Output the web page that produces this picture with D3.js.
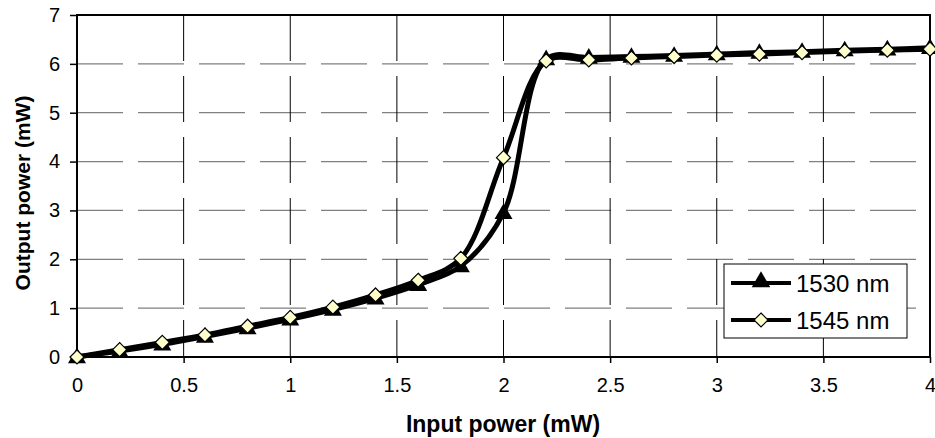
<!DOCTYPE html>
<html>
<head>
<meta charset="utf-8">
<script src="https://cdn.jsdelivr.net/npm/d3@7"></script>
<style>
  body { margin: 0; background: #fff; }
  text { font-family: "Liberation Sans", Arial, sans-serif; }
</style>
</head>
<body>
<svg width="935" height="438"></svg>
<script>
// input power (mW)
var input_power = [0, 0.2, 0.4, 0.6, 0.8, 1, 1.2, 1.4, 1.6, 1.8, 2, 2.2, 2.4, 2.6, 2.8, 3, 3.2, 3.4, 3.6, 3.8, 4];
// output power (mW) for each wavelength
var out_1530 = [0, 0.12, 0.26, 0.42, 0.59, 0.77, 0.97, 1.2, 1.48, 1.86, 2.95, 6.1, 6.13, 6.15, 6.17, 6.2, 6.23, 6.25, 6.28, 6.3, 6.33];
var out_1545 = [0, 0.15, 0.3, 0.45, 0.63, 0.81, 1.02, 1.27, 1.57, 2.02, 4.08, 6.06, 6.08, 6.12, 6.15, 6.18, 6.2, 6.23, 6.26, 6.28, 6.3];
var x_ticks = [0, 0.5, 1, 1.5, 2, 2.5, 3, 3.5, 4];
var y_ticks = [0, 1, 2, 3, 4, 5, 6, 7];
var series_names = ["1530 nm", "1545 nm"];

var svg = d3.select("svg");
var left = 77, right = 930, top_ = 15, bottom = 357;

var x = d3.scaleLinear().domain([0, 4]).range([left, right]);
var y = d3.scaleLinear().domain([0, 7]).range([bottom, top_]);

// grid lines (dashed)
svg.append("g").selectAll("line")
    .data(y_ticks.filter(function(d){ return d > 0 && d < 7; }))
    .enter().append("line")
    .attr("x1", left).attr("x2", right)
    .attr("y1", function(d){ return y(d); })
    .attr("y2", function(d){ return y(d); })
    .attr("stroke", "#808080")
    .attr("stroke-width", 1.3)
    .attr("stroke-dasharray", "46,15");

svg.append("g").selectAll("line")
    .data(x_ticks.filter(function(d){ return d > 0 && d < 4; }))
    .enter().append("line")
    .attr("x1", function(d){ return x(d); })
    .attr("x2", function(d){ return x(d); })
    .attr("y1", top_).attr("y2", bottom)
    .attr("stroke", "#000")
    .attr("stroke-width", 1)
    .attr("stroke-dasharray", "46,15");

// plot frame
svg.append("rect")
    .attr("x", left).attr("y", top_)
    .attr("width", right - left).attr("height", bottom - top_)
    .attr("fill", "none")
    .attr("stroke", "#000")
    .attr("stroke-width", 2);

// axes
var xAxis = svg.append("g")
    .attr("transform", "translate(0," + bottom + ")")
    .call(d3.axisBottom(x).tickValues(x_ticks).tickSize(6).tickPadding(15).tickFormat(d3.format("")));
var yAxis = svg.append("g")
    .attr("transform", "translate(" + left + ",0)")
    .call(d3.axisLeft(y).tickValues(y_ticks).tickSize(7).tickPadding(10).tickFormat(d3.format("d")));
[xAxis, yAxis].forEach(function(a){
    a.select(".domain").remove();
    a.selectAll(".tick line").attr("stroke", "#000").attr("stroke-width", 1.5);
    a.selectAll("text").attr("font-size", 20).attr("fill", "#000")
        .attr("font-family", "'Liberation Sans', Arial, sans-serif");
});

// series
var line = d3.line()
    .x(function(d){ return x(d[0]); })
    .y(function(d){ return y(d[1]); })
    .curve(d3.curveCatmullRom.alpha(0.5));

var data_1530 = input_power.map(function(v, i){ return [v, out_1530[i]]; });
var data_1545 = input_power.map(function(v, i){ return [v, out_1545[i]]; });

var tri = d3.symbol().type(d3.symbolTriangle).size(140);
var dia = function(cx, cy, r){
    return "M" + cx + "," + (cy - r) + "L" + (cx + r) + "," + cy + "L" + cx + "," + (cy + r) + "L" + (cx - r) + "," + cy + "Z";
};

svg.append("path").datum(data_1530)
    .attr("d", line).attr("fill", "none")
    .attr("stroke", "#000").attr("stroke-width", 5);
svg.append("path").datum(data_1545)
    .attr("d", line).attr("fill", "none")
    .attr("stroke", "#000").attr("stroke-width", 5);

svg.append("g").selectAll("path")
    .data(data_1530).enter().append("path")
    .attr("d", tri)
    .attr("transform", function(d){ return "translate(" + x(d[0]) + "," + (y(d[1]) + 1) + ")"; })
    .attr("fill", "#000");

svg.append("g").selectAll("path")
    .data(data_1545).enter().append("path")
    .attr("d", function(d){ return dia(x(d[0]), y(d[1]), 7); })
    .attr("fill", "#ffffcc")
    .attr("stroke", "#000")
    .attr("stroke-width", 1.2);

// legend
var lg = svg.append("g");
lg.append("rect")
    .attr("x", 724).attr("y", 264)
    .attr("width", 183).attr("height", 74)
    .attr("fill", "#fff").attr("stroke", "#000").attr("stroke-width", 1);
series_names.forEach(function(name, i){
    var ly = 283 + i * 37;
    lg.append("line")
        .attr("x1", 731).attr("x2", 791)
        .attr("y1", ly).attr("y2", ly)
        .attr("stroke", "#000").attr("stroke-width", 4);
    if (i === 0) {
        lg.append("path").attr("d", d3.symbol().type(d3.symbolTriangle).size(150))
            .attr("transform", "translate(761," + (ly - 1) + ")")
            .attr("fill", "#000");
    } else {
        lg.append("path").attr("d", dia(761, ly, 7))
            .attr("fill", "#ffffcc").attr("stroke", "#000").attr("stroke-width", 1.2);
    }
    lg.append("text")
        .attr("x", 796).attr("y", ly + 8.5)
        .attr("font-size", 24)
        .text(name);
});

// axis titles
svg.append("text")
    .attr("x", 503).attr("y", 432)
    .attr("text-anchor", "middle")
    .attr("font-size", 23).attr("font-weight", "bold")
    .text("Input power (mW)");
svg.append("text")
    .attr("transform", "translate(30,193) rotate(-90)")
    .attr("text-anchor", "middle")
    .attr("font-size", 21).attr("font-weight", "bold")
    .text("Output power (mW)");
</script>
</body>
</html>
